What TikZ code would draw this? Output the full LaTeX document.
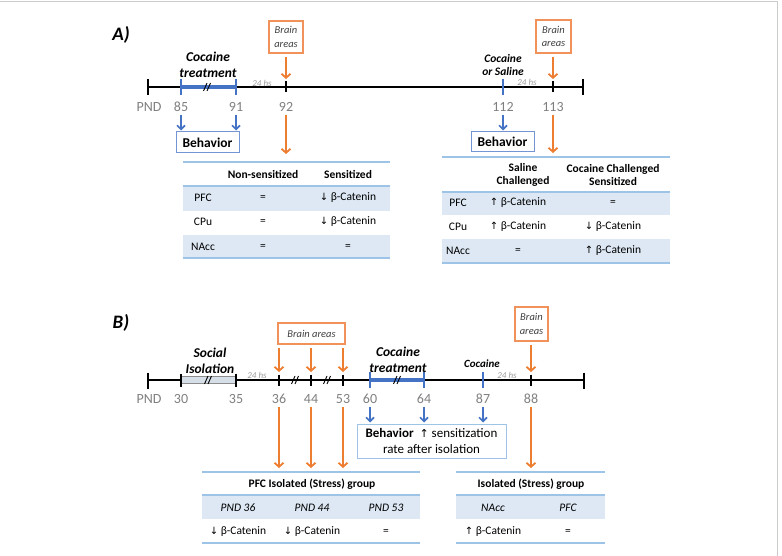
\documentclass[tikz,border=0pt]{standalone}
\usepackage{fontspec}
\setmainfont{Carlito}
\newfontfamily\arrowfont{DejaVu Sans}
\usetikzlibrary{arrows.meta}
\definecolor{org}{HTML}{ED7D31}
\definecolor{orgl}{HTML}{F0925A}
\definecolor{blu}{HTML}{4472C4}
\definecolor{tfill}{HTML}{DDE8F4}
\definecolor{tline}{HTML}{9DC3E6}
\definecolor{gtxt}{HTML}{7F7F7F}
\definecolor{isofill}{HTML}{D6DEE8}
\newcommand{\myfs}[1]{\fontsize{#1}{#1}\selectfont}
\newcommand{\upa}{{\arrowfont\myfs{10}↑}}
\newcommand{\dna}{{\arrowfont\myfs{10}↓}}
\tikzset{
  tl/.style={line width=2pt, black},
  endtick/.style={line width=2.4pt, black},
  smalltick/.style={line width=1.3pt, black},
  bluebar/.style={line width=4pt, blu},
  bluetick/.style={line width=2.6pt, blu},
  brk/.style={line width=0.9pt, black},
  lbl/.style={text=gtxt, font=\myfs{14}, inner sep=0pt},
  bi/.style={font=\bfseries\itshape, align=center, inner sep=0pt},
  hs/.style={font=\myfs{9}\itshape, text=black!40, inner sep=0pt},
  brain/.style={draw=orgl, line width=1.2pt, font=\myfs{10.5}\itshape, text=black!75, align=center, inner sep=0pt},
  behav/.style={draw=blu!75, line width=1pt, align=center, inner sep=0pt},
  oarr/.style={draw=org, line width=2pt, -{Straight Barb[length=4pt,width=9pt,line width=1.8pt]}},
  barr/.style={draw=blu, line width=1.8pt, -{Straight Barb[length=4pt,width=8pt,line width=1.6pt]}},
  tlinestyle/.style={draw=tline, line width=1.4pt},
  tt/.style={font=\myfs{11.5}, inner sep=0pt},
  th/.style={font=\myfs{11.5}\bfseries, inner sep=0pt, align=center},
  ti/.style={font=\myfs{11.5}\itshape, inner sep=0pt},
}
\begin{document}
\begin{tikzpicture}[x=1pt,y=-1pt]
\useasboundingbox (0,0) rectangle (782,556);
% frame
\draw[black!20, line width=1pt] (0,1.5) -- (777,1.5) -- (777,556);

% ================= A =================
\node[font=\myfs{19}\bfseries\itshape, inner sep=0] (lA) at (121,35) {A)};
\node[brain, draw=orgl, minimum width=34pt, minimum height=32pt] (brA1) at (286,37) {Brain\\[3pt]areas};
\node[brain, minimum width=35pt, minimum height=33pt] (brA2) at (553.5,36.5) {Brain\\[3pt]areas};
% timeline
\draw[tl] (148,87) -- (583,87);
\draw[endtick] (148,79.5) -- (148,95.5);
\draw[endtick] (583,79.5) -- (583,95.5);
\draw[bluebar] (181,87) -- (236,87);
\draw[bluetick] (181,79) -- (181,95);
\draw[bluetick] (236,79) -- (236,95);
\draw[brk] (203.5,91) -- (207,83);
\draw[brk] (207,91) -- (210.5,83);
\draw[smalltick] (286,81.5) -- (286,92.5);
\draw[bluetick] (503,79) -- (503,95);
\draw[smalltick] (553,81.5) -- (553,92.5);
\coordinate (a92) at (286,79);
\coordinate (a113) at (553,79);
\node[hs] (hsA1) at (262,83) {24 hs};
\node[hs] (hsA2) at (527,82) {24 hs};
\node[bi, font=\myfs{13.5}\bfseries\itshape] (ctA) at (208,65) {Cocaine\\[2pt]treatment};
\node[bi, font=\myfs{11.5}\bfseries\itshape] (csA) at (503,65) {Cocaine\\[2pt]or Saline};
\draw[oarr, shorten <=3pt] (brA1.south -| a92) -- (a92);
\draw[oarr, shorten <=3pt] (brA2.south -| a113) -- (a113);
% labels
\node[lbl] (pA) at (149,107) {PND};
\node[lbl] (n85) at (181,107) {85};
\node[lbl] (n91) at (236,107) {91};
\node[lbl] (n92) at (286,107) {92};
\node[lbl] (n112) at (503,107) {112};
\node[lbl] (n113) at (553,107) {113};
% behavior boxes
\node[behav, minimum width=63pt, minimum height=21pt, font=\myfs{13.5}\bfseries] (bhA1) at (207.5,142.5) {Behavior};
\node[behav, minimum width=63pt, minimum height=20pt, font=\myfs{13.5}\bfseries] (bhA2) at (502.5,142) {Behavior};
\draw[barr, shorten <=3pt, shorten >=1pt] (n85.south) -- (n85.south |- bhA1.north);
\draw[barr, shorten <=3pt, shorten >=1pt] (n91.south) -- (n91.south |- bhA1.north);
\draw[barr, shorten <=3pt, shorten >=1pt] (n112.south) -- (n112.south |- bhA2.north);
% table A left
\fill[tfill] (183,186) rectangle (390,211);
\fill[tfill] (183,235) rectangle (390,258);
\draw[tlinestyle] (183,162) -- (390,162);
\draw[tlinestyle] (183,186) -- (390,186);
\draw[tlinestyle] (183,258) -- (390,258);
\coordinate (tAL) at (286,162);
\draw[oarr, shorten <=3pt, shorten >=8pt] (n92) -- (tAL);
\node[th] (hA1) at (263,175) {Non-sensitized};
\node[th] (hA2) at (348,175) {Sensitized};
\node[tt] (r1a) at (203,198) {PFC};
\node[tt] (r1b) at (263,198) {=};
\node[tt] (r1c) at (348,198) {\dna\ β-Catenin};
\node[tt] (r2a) at (203,222) {CPu};
\node[tt] (r2b) at (263,222) {=};
\node[tt] (r2c) at (348,222) {\dna\ β-Catenin};
\node[tt] (r3a) at (203,247) {NAcc};
\node[tt] (r3b) at (263,247) {=};
\node[tt] (r3c) at (348,247) {=};
% table A right
\fill[tfill] (442,192) rectangle (670,215);
\fill[tfill] (442,239) rectangle (670,263);
\draw[tlinestyle] (442,157) -- (670,157);
\draw[tlinestyle] (442,192) -- (670,192);
\draw[tlinestyle] (442,263) -- (670,263);
\coordinate (tAR) at (553,157);
\draw[oarr, shorten <=3pt, shorten >=4pt] (n113) -- (tAR);
\node[th] (hB1) at (523,175) {Saline\\[2pt]Challenged};
\node[th] (hB2) at (613,175) {Cocaine Challenged\\[2pt]Sensitized};
\node[tt] (s1a) at (458,203) {PFC};
\node[tt] (s1b) at (518,203) {\upa\ β-Catenin};
\node[tt] (s1c) at (613,203) {=};
\node[tt] (s2a) at (458,227) {CPu};
\node[tt] (s2b) at (518,227) {\upa\ β-Catenin};
\node[tt] (s2c) at (613,227) {\dna\ β-Catenin};
\node[tt] (s3a) at (458,251) {NAcc};
\node[tt] (s3b) at (518,251) {=};
\node[tt] (s3c) at (613,251) {\upa\ β-Catenin};

% ================= B =================
\node[font=\myfs{19}\bfseries\itshape, inner sep=0] (lB) at (121,323) {B)};
\draw[tl] (148,380) -- (584,380);
\draw[endtick] (148,372.5) -- (148,388.5);
\draw[endtick] (584,372.5) -- (584,388.5);
% social isolation bar
\draw[fill=isofill, draw=black!45, line width=0.6pt] (181,376.5) rectangle (236,383.5);
\draw[smalltick] (181,373.5) -- (181,386.5);
\draw[smalltick] (236,373.5) -- (236,386.5);
\draw[brk] (204.5,384) -- (208,376);
\draw[brk] (208,384) -- (211.5,376);
% ticks 36 44 53
\draw[smalltick] (279,374.5) -- (279,385.5);
\draw[smalltick] (311,374.5) -- (311,385.5);
\draw[smalltick] (343,374.5) -- (343,385.5);
\draw[brk] (291.5,384) -- (295,376);
\draw[brk] (295,384) -- (298.5,376);
\draw[brk] (323.5,384) -- (327,376);
\draw[brk] (327,384) -- (330.5,376);
% cocaine bar
\draw[bluebar] (370,380) -- (424,380);
\draw[bluetick] (370,372) -- (370,388);
\draw[bluetick] (424,372) -- (424,388);
\draw[brk] (393.5,384) -- (397,376);
\draw[brk] (397,384) -- (400.5,376);
\draw[bluetick] (483,372) -- (483,388);
\draw[smalltick] (531,374.5) -- (531,385.5);
\coordinate (b36) at (279,372);
\coordinate (b44) at (311,372);
\coordinate (b53) at (343,372);
\coordinate (b88) at (531,372);
\node[hs] (hsB1) at (257,375) {24 hs};
\node[hs] (hsB2) at (507,375) {24 hs};
\node[bi, font=\myfs{13.5}\bfseries\itshape] (siB) at (210,361) {Social\\[2pt]Isolation};
\node[bi, font=\myfs{13.5}\bfseries\itshape] (ctB) at (398,360) {Cocaine\\[2pt]treatment};
\node[bi, font=\myfs{11}\bfseries\itshape] (cB) at (482,364) {Cocaine};
\node[brain, minimum width=67pt, minimum height=21pt] (brB1) at (311.5,333.5) {Brain areas};
\node[brain, minimum width=33pt, minimum height=34pt] (brB2) at (531.5,324) {Brain\\[3pt]areas};
\draw[oarr, shorten <=3pt] (brB1.south -| b36) -- (b36);
\draw[oarr, shorten <=3pt] (brB1.south -| b44) -- (b44);
\draw[oarr, shorten <=3pt] (brB1.south -| b53) -- (b53);
\draw[oarr, shorten <=3pt] (brB2.south -| b88) -- (b88);
% labels
\node[lbl] (pB) at (149,399) {PND};
\node[lbl] (m30) at (181,399) {30};
\node[lbl] (m35) at (236,399) {35};
\node[lbl] (m36) at (279,399) {36};
\node[lbl] (m44) at (311,399) {44};
\node[lbl] (m53) at (343,399) {53};
\node[lbl] (m60) at (370,399) {60};
\node[lbl] (m64) at (424,399) {64};
\node[lbl] (m87) at (483,399) {87};
\node[lbl] (m88) at (531,399) {88};
% behavior box B
\node[behav, draw=tline, minimum width=149pt, minimum height=34pt, font=\myfs{13}] (bhB) at (431.5,441) {\textbf{Behavior}\ \ {\arrowfont\myfs{11}↑} sensitization\\[3pt]rate after isolation};
\draw[barr, shorten <=3pt, shorten >=1pt] (m60.south) -- (m60.south |- bhB.north);
\draw[barr, shorten <=3pt, shorten >=1pt] (m64.south) -- (m64.south |- bhB.north);
\draw[barr, shorten <=3pt, shorten >=1pt] (m87.south) -- (m87.south |- bhB.north);
% table B left
\fill[tfill] (202,495) rectangle (420,519);
\draw[tlinestyle] (202,472) -- (420,472);
\draw[tlinestyle] (202,495) -- (420,495);
\draw[tlinestyle] (202,543) -- (420,543);
\coordinate (tBL36) at (279,472);
\coordinate (tBL44) at (311,472);
\coordinate (tBL53) at (343,472);
\draw[oarr, shorten <=3pt, shorten >=4pt] (m36) -- (tBL36);
\draw[oarr, shorten <=3pt, shorten >=4pt] (m44) -- (tBL44);
\draw[oarr, shorten <=3pt, shorten >=4pt] (m53) -- (tBL53);
\node[th] (tBLh) at (312,484) {PFC Isolated (Stress) group};
\node[ti] (u1) at (238,508) {PND 36};
\node[ti] (u2) at (312,508) {PND 44};
\node[ti] (u3) at (386,508) {PND 53};
\node[tt] (v1) at (238,532) {\dna\ β-Catenin};
\node[tt] (v2) at (312,532) {\dna\ β-Catenin};
\node[tt] (v3) at (386,532) {=};
% table B right
\fill[tfill] (456,495) rectangle (605,519);
\draw[tlinestyle] (456,472) -- (605,472);
\draw[tlinestyle] (456,495) -- (605,495);
\draw[tlinestyle] (456,543) -- (605,543);
\coordinate (tBR) at (531,472);
\draw[oarr, shorten <=3pt, shorten >=4pt] (m88) -- (tBR);
\node[th] (tBRh) at (531,484) {Isolated (Stress) group};
\node[ti] (w1) at (493,508) {NAcc};
\node[ti] (w2) at (568,508) {PFC};
\node[tt] (x1) at (493,532) {\upa\ β-Catenin};
\node[tt] (x2) at (568,532) {=};
\end{tikzpicture}
\end{document}
